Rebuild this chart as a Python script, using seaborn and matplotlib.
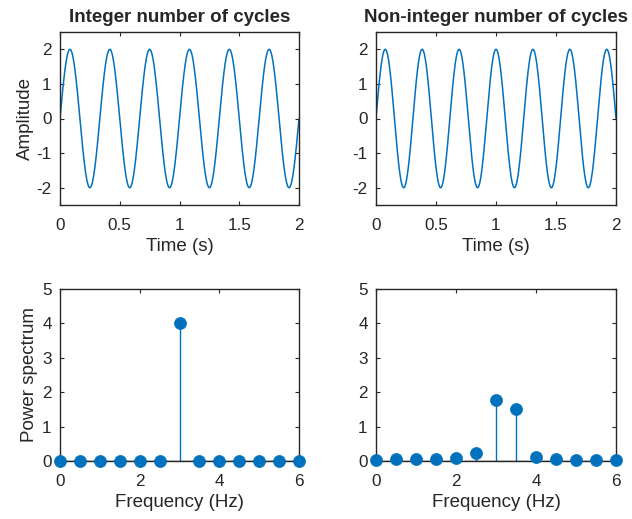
import numpy as np
import pandas as pd
import matplotlib
matplotlib.use("Agg")
import matplotlib.pyplot as plt
import seaborn as sns

# Signal parameters
AMPLITUDE = 2.0
DURATION = 2.0            # seconds
FREQ_INTEGER = 3.0        # Hz -> 6 whole cycles in the window
FREQ_NONINTEGER = 3.25    # Hz -> 6.5 cycles in the window
N_SAMPLES = 1000

# Power spectra (0.5 Hz bins)
freq_bins = [0.0, 0.5, 1.0, 1.5, 2.0, 2.5, 3.0, 3.5, 4.0, 4.5, 5.0, 5.5, 6.0]
power_integer = [0, 0, 0, 0, 0, 0, 4.0, 0, 0, 0, 0, 0, 0]
power_noninteger = [0.02, 0.05, 0.05, 0.05, 0.08, 0.24, 1.76, 1.50, 0.13, 0.06, 0.03, 0.03, 0.02]

sns.set_style("ticks")
plt.rcParams.update({
    "axes.edgecolor": "#262626",
    "axes.linewidth": 1.0,
    "axes.unicode_minus": False,
    "xtick.color": "#262626",
    "ytick.color": "#262626",
    "xtick.direction": "in",
    "ytick.direction": "in",
    "xtick.top": True,
    "ytick.right": True,
    "xtick.major.size": 3,
    "ytick.major.size": 3,
    "xtick.labelsize": 12.3,
    "ytick.labelsize": 12.3,
    "axes.labelsize": 13.5,
    "axes.titlesize": 13.5,
    "axes.titleweight": "bold",
    "text.color": "#262626",
    "axes.labelcolor": "#262626",
})
plt.rcParams["font.family"] = ["Liberation Sans", "DejaVu Sans"]

BLUE = "#0072BD"

t = np.linspace(0, DURATION, N_SAMPLES)
signals = pd.DataFrame({
    "t": t,
    "integer": AMPLITUDE * np.sin(2 * np.pi * FREQ_INTEGER * t),
    "noninteger": AMPLITUDE * np.sin(2 * np.pi * FREQ_NONINTEGER * t),
})
spectra = pd.DataFrame({
    "f": freq_bins,
    "integer": power_integer,
    "noninteger": power_noninteger,
})

fig = plt.figure(figsize=(6.32, 5.19), dpi=100)
W, H = 632, 519

def add_axes(x0, y0, x1, y1):
    return fig.add_axes([x0 / W, 1 - y1 / H, (x1 - x0) / W, (y1 - y0) / H])

ax_tl = add_axes(60, 32, 299, 205)
ax_tr = add_axes(376, 32, 616, 205)
ax_bl = add_axes(60, 289, 299, 461)
ax_br = add_axes(376, 289, 616, 461)

titles = {"integer": "Integer number of cycles", "noninteger": "Non-integer number of cycles"}

for ax, key in [(ax_tl, "integer"), (ax_tr, "noninteger")]:
    sns.lineplot(data=signals, x="t", y=key, ax=ax, color=BLUE, linewidth=1.1)
    ax.set_xlim(0, 2)
    ax.set_ylim(-2.5, 2.5)
    ax.set_xticks([0, 0.5, 1, 1.5, 2])
    ax.set_xticklabels(["0", "0.5", "1", "1.5", "2"])
    ax.set_yticks([-2, -1, 0, 1, 2])
    ax.set_xlabel("Time (s)", labelpad=4)
    ax.set_ylabel("")
    ax.set_title(titles[key], pad=7)

ax_tl.set_ylabel("Amplitude", labelpad=2)

for ax, key in [(ax_bl, "integer"), (ax_br, "noninteger")]:
    ax.vlines(spectra["f"], 0, spectra[key], color=BLUE, linewidth=1.0, zorder=2)
    ax.axhline(0, color="#262626", linewidth=1.0, zorder=2)
    sns.scatterplot(data=spectra, x="f", y=key, ax=ax, color=BLUE, s=75,
                    edgecolor=BLUE, linewidth=0.5, zorder=3, clip_on=False)
    ax.set_xlim(0, 6)
    ax.set_ylim(0, 5)
    ax.set_xticks([0, 2, 4, 6])
    ax.set_yticks([0, 1, 2, 3, 4, 5])
    ax.set_xlabel("Frequency (Hz)", labelpad=4)
    ax.set_ylabel("")

ax_bl.set_ylabel("Power spectrum", labelpad=3)

for ax in (ax_tl, ax_tr, ax_bl, ax_br):
    for sp in ax.spines.values():
        sp.set_visible(True)
    ax.tick_params(axis="x", pad=9)
    ax.tick_params(axis="y", pad=6)

fig.savefig("out.png", dpi=100, facecolor="white")
